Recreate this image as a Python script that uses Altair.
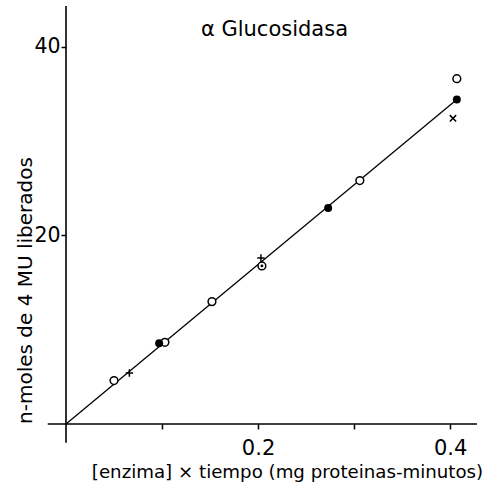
import altair as alt
import pandas as pd

# ---- data ----
open_x = [0.050, 0.103, 0.152, 0.306, 0.407]
open_y = [4.6, 8.66, 12.97, 25.8, 36.6]
filled_x = [0.097, 0.273, 0.407]
filled_y = [8.55, 22.9, 34.4]
plus_x = [0.066, 0.203]
plus_y = [5.4, 17.6]
cross_x = [0.403]
cross_y = [32.4]
dot_x = [0.204]
dot_y = [16.75]
fit_x = [0.0, 0.407]
fit_y = [0.0, 34.4]

x_ticks = [0.1, 0.2, 0.3, 0.4]
y_ticks = [20, 40]
x_domain = [0.0, 0.428]
y_domain = [0.0, 44.3]
x_axis_extent = [-0.019, 0.428]
y_axis_extent = [-2.0, 44.3]

FONT = "DejaVu Sans"

def df(xs, ys):
    return pd.DataFrame({"x": xs, "y": ys})

xs = alt.Scale(domain=x_domain, nice=False, zero=False)
ys = alt.Scale(domain=y_domain, nice=False, zero=False)

x_axis = alt.Axis(values=x_ticks, domain=False, grid=False, ticks=True, tickSize=5,
                  tickWidth=1.5, tickColor="black", labelFont=FONT, labelFontSize=21,
                  labelColor="black", labelPadding=8, format=".1f",
                  labelExpr="datum.value > 0.15 && datum.value < 0.25 ? '0.2' : (datum.value > 0.35 ? '0.4' : '')",
                  title="[enzima] × tiempo (mg proteinas-minutos)", titleFont=FONT,
                  titleFontSize=18.2, titleFontWeight="normal", titleColor="black",
                  titleX=221, titleY=53, titleBaseline="alphabetic", titleAlign="center")
y_axis = alt.Axis(values=y_ticks, domain=False, grid=False, ticks=True, tickSize=5,
                  tickWidth=1.5, tickColor="black", labelFont=FONT, labelFontSize=20.5,
                  labelColor="black", labelPadding=1,
                  title="n-moles de 4 MU liberados", titleFont=FONT, titleFontSize=20,
                  titleFontWeight="normal", titleColor="black", titleAngle=270,
                  titleX=-35, titleY=284, titleAlign="center", titleBaseline="alphabetic")

base_x = alt.X("x:Q", scale=xs, axis=x_axis)
base_y = alt.Y("y:Q", scale=ys, axis=y_axis)

zero_df = pd.DataFrame({"x": [0.0]})

xaxis_line = alt.Chart(zero_df).mark_rule(color="black", strokeWidth=1.6).encode(
    x=alt.datum(x_axis_extent[0], scale=xs), x2=alt.datum(x_axis_extent[1]),
    y=alt.datum(0, scale=ys))
yaxis_line = alt.Chart(zero_df).mark_rule(color="black", strokeWidth=1.6).encode(
    y=alt.datum(y_axis_extent[0], scale=ys), y2=alt.datum(y_axis_extent[1]),
    x=alt.datum(0, scale=xs))

fit = alt.Chart(df(fit_x, fit_y)).mark_line(color="black", strokeWidth=1.3).encode(x=base_x, y=base_y)

opens = alt.Chart(df(open_x, open_y)).mark_point(shape="circle", size=60, filled=True,
    fill="white", stroke="black", strokeWidth=1.5, opacity=1).encode(x="x:Q", y="y:Q")
filled = alt.Chart(df(filled_x, filled_y)).mark_point(shape="circle", size=64, filled=True,
    color="black", opacity=1).encode(x="x:Q", y="y:Q")
plus = alt.Chart(df(plus_x, plus_y)).mark_point(shape="M-1,0L1,0M0,-1L0,1", size=55,
    filled=False, stroke="black", strokeWidth=1.5, opacity=1).encode(x="x:Q", y="y:Q")
cross = alt.Chart(df(cross_x, cross_y)).mark_point(shape="M-1,-1L1,1M-1,1L1,-1", size=40,
    filled=False, stroke="black", strokeWidth=1.5, opacity=1).encode(x="x:Q", y="y:Q")
dot_ring = alt.Chart(df(dot_x, dot_y)).mark_point(shape="circle", size=60, filled=True,
    fill="white", stroke="black", strokeWidth=1.5, opacity=1).encode(x="x:Q", y="y:Q")
dot_center = alt.Chart(df(dot_x, dot_y)).mark_point(shape="circle", size=8, filled=True,
    color="black", opacity=1).encode(x="x:Q", y="y:Q")

chart = alt.layer(fit, xaxis_line, yaxis_line, opens, filled, plus, cross, dot_ring, dot_center).properties(
    width=411, height=418,
    title=alt.TitleParams("α Glucosidasa", font=FONT, fontSize=21, fontWeight="normal",
                          color="black", anchor="middle", frame="group", offset=-29,
                          baseline="alphabetic", dx=3, dy=23),
    autosize=alt.AutoSizeParams(type="none"),
    padding={"left": 66, "top": 6, "right": 9, "bottom": 63},
    background="white",
).configure_view(stroke=None)

chart.save("out.html", embed_options={"renderer": "svg", "actions": False})
